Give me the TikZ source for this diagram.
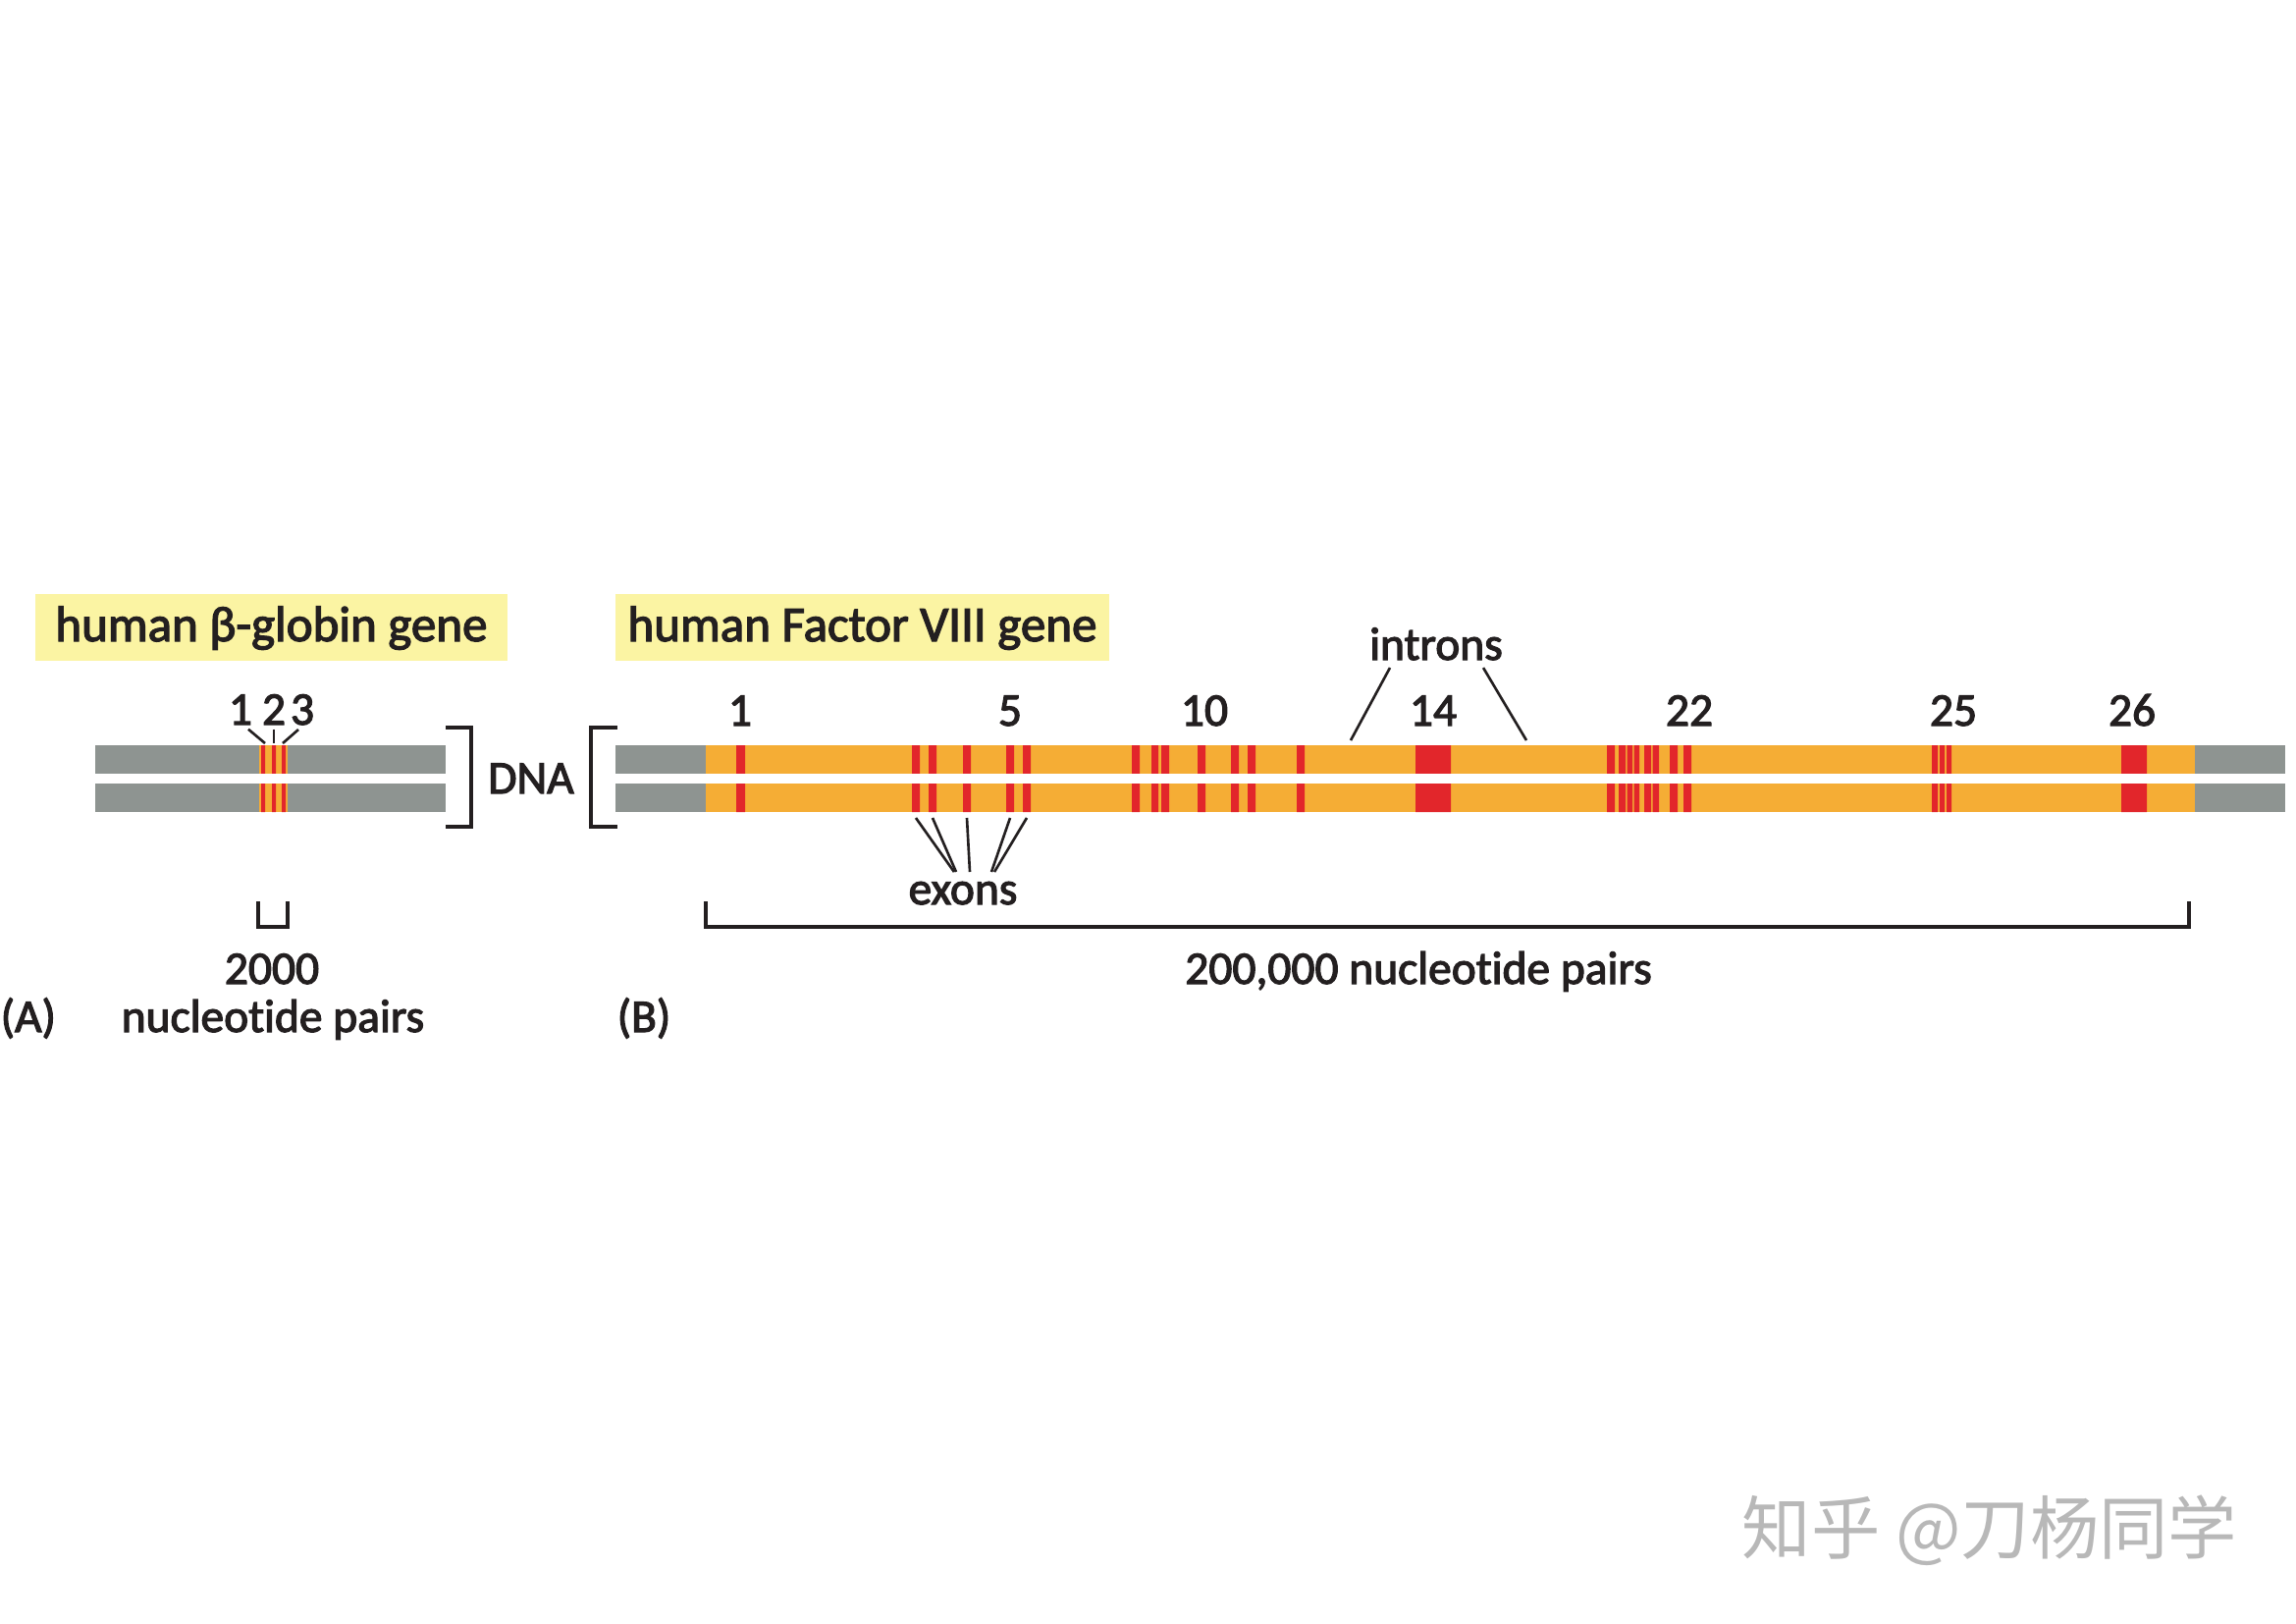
\documentclass[tikz,border=0pt]{standalone}
\usepackage{fontspec}
\setmainfont{Carlito}[Ligatures=NoCommon,FakeBold=2.5]
\newfontfamily\cjk{Noto Sans CJK SC}
\definecolor{flankgray}{HTML}{8E9491}
\definecolor{intronorange}{HTML}{F5AD35}
\definecolor{exonred}{HTML}{E2262B}
\definecolor{titleyellow}{HTML}{FBF4A3}
\definecolor{inkblack}{HTML}{231F20}
\begin{document}
\begin{tikzpicture}[x=0.01cm,y=-0.01cm,
   lbl/.style={inner sep=0pt,anchor=base,text=inkblack,font=\fontsize{13.5}{16}\selectfont},
   titlebox/.style={fill=titleyellow,inner sep=0pt,text=inkblack,font=\fontsize{14.5}{17}\selectfont,
     minimum height=0.68cm,text height=0.34cm,text depth=0.06cm},
   leader/.style={inkblack,line width=0.75pt},
   brace/.style={inkblack,line width=0.9pt},
   flank/.style={fill=flankgray},
   intron/.style={fill=intronorange},
   exon/.style={fill=exonred}]
   \useasboundingbox (0,0) rectangle (2339,1653);
  % titles
   \node[titlebox,minimum width=4.81cm] (titleA) at (276.5,639) {human β-globin gene};
   \node[titlebox,minimum width=5.03cm] (titleB) at (878.5,639) {human Factor VIII gene};
  % (A) beta-globin
   \fill[flank] (97,759) rectangle (454,827);
   \fill[intron] (264,759) rectangle (293,827);
   \fill[exon] (266,759) rectangle (270,827) (277,759) rectangle (281,827) (287,759) rectangle (291,827);
   \fill[white] (90,788) rectangle (460,798);
   \node[lbl] (numA1) at (245,738) {1};
   \node[lbl] (numA2) at (279,738) {2};
   \node[lbl] (numA3) at (308,738) {3};
   \coordinate (exA1) at (270,757);
   \coordinate (exA2) at (279,757);
   \coordinate (exA3) at (288,757);
   \draw[leader] ([xshift=0.08cm,yshift=-0.04cm]numA1.south) -- (exA1);
   \draw[leader] ([yshift=-0.04cm]numA2.south) -- (exA2);
   \draw[leader] ([xshift=-0.04cm,yshift=-0.04cm]numA3.south) -- (exA3);
   \draw[brace] (454,741) -- (480,741) -- (480,842) -- (454,842);
   \node[lbl] (dna) at (541,808) {DNA};
   \draw[brace] (629,741) -- (602,741) -- (602,842) -- (629,842);
   \draw[brace] (263,918) -- (263,944) -- (293,944) -- (293,918);
   \node[lbl] (sizeA) at (277,1002) {2000};
   \node[lbl] (unitA) at (278,1051) {nucleotide pairs};
   \node[lbl,anchor=base west] (panelA) at (0,1051) {(A)};
  % (B) Factor VIII
   \fill[flank] (627,759) rectangle (2328,827);
   \fill[intron] (719,759) rectangle (2236,827);
   \fill[exon] (750,759) rectangle (759,827) (929,759) rectangle (937,827) (946,759) rectangle (954,827)
     (981,759) rectangle (989,827) (1025,759) rectangle (1033,827) (1042,759) rectangle (1050,827);
   \fill[exon] (1153,759) rectangle (1161,827) (1173,759) rectangle (1180,827) (1183,759) rectangle (1191,827)
     (1220,759) rectangle (1228,827) (1254,759) rectangle (1262,827) (1271,759) rectangle (1279,827)
     (1321,759) rectangle (1329,827) (1442,759) rectangle (1478,827);
   \fill[exon] (1637,759) rectangle (1645,827) (1649,759) rectangle (1656,827) (1657.5,759) rectangle (1663,827)
     (1664.5,759) rectangle (1670,827) (1675,759) rectangle (1682,827) (1683.5,759) rectangle (1690,827)
     (1701,759) rectangle (1709,827) (1715,759) rectangle (1723,827);
   \fill[exon] (1968,759) rectangle (1974,827) (1976,759) rectangle (1981,827) (1983,759) rectangle (1988,827)
     (2161,759) rectangle (2187,827);
   \fill[white] (620,788) rectangle (2335,798);
   \node[lbl] (numB1) at (754,739) {1};
   \node[lbl] (numB5) at (1029,739) {5};
   \node[lbl] (numB10) at (1227,739) {10};
   \node[lbl] (numB14) at (1460,739) {14};
   \node[lbl] (numB22) at (1721,739) {22};
   \node[lbl] (numB25) at (1990,739) {25};
   \node[lbl] (numB26) at (2172,739) {26};
   \node[lbl] (intr) at (1463,672) {introns};
   \coordinate (intrL) at (1376,754);
   \coordinate (intrR) at (1555,754);
   \draw[leader] ([xshift=-0.47cm,yshift=-0.07cm]intr.south) -- (intrL);
   \draw[leader] ([xshift=0.48cm,yshift=-0.07cm]intr.south) -- (intrR);
   \node[lbl] (exn) at (981,921) {exons};
   \coordinate (exnTop) at (981,888);
   \coordinate (exB2) at (933,833);
   \coordinate (exB3) at (950,833);
   \coordinate (exB4) at (985,833);
   \coordinate (exB5) at (1029,833);
   \coordinate (exB6) at (1046,833);
   \draw[leader] (exB2) -- ([xshift=-0.09cm]exnTop);
   \draw[leader] (exB3) -- ([xshift=-0.07cm]exnTop);
   \draw[leader] (exB4) -- ([xshift=0.07cm]exnTop);
   \draw[leader] (exB5) -- ([xshift=0.29cm]exnTop);
   \draw[leader] (exB6) -- ([xshift=0.32cm]exnTop);
   \draw[brace] (719,918) -- (719,944) -- (2230,944) -- (2230,918);
   \node[lbl] (sizeB) at (1445,1002) {200,000 nucleotide pairs};
   \node[lbl,anchor=base west] (panelB) at (628,1051) {(B)};
  % watermark
   \node[inner sep=0pt,text=black!28,font=\cjk\fontsize{20}{24}\selectfont] (mark) at (2027,1559) {知乎 @刀杨同学};
\end{tikzpicture}
\end{document}
